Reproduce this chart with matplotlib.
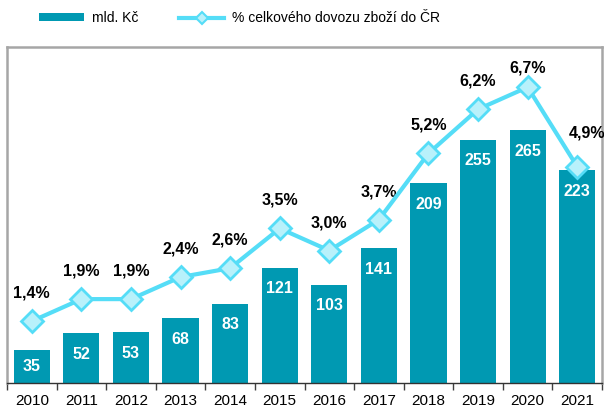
import matplotlib
matplotlib.use("Agg")
import matplotlib.pyplot as plt
from matplotlib.lines import Line2D
from matplotlib.patches import Patch

plt.rcParams['font.family'] = ['Liberation Sans', 'DejaVu Sans']

years = ['2010', '2011', '2012', '2013', '2014', '2015', '2016', '2017', '2018', '2019', '2020', '2021']
values_bn = [35, 52, 53, 68, 83, 121, 103, 141, 209, 255, 265, 223]
share_pct = [1.4, 1.9, 1.9, 2.4, 2.6, 3.5, 3.0, 3.7, 5.2, 6.2, 6.7, 4.9]
share_labels = ['1,4%', '1,9%', '1,9%', '2,4%', '2,6%', '3,5%', '3,0%', '3,7%', '5,2%', '6,2%', '6,7%', '4,9%']
legend_labels = ['mld. Kč', '% celkového dovozu zboží do ČR']

bar_color = '#0099B2'
line_color = '#55DDF7'
marker_face = '#B8F1FB'

fig = plt.figure(figsize=(6.04, 4.11), dpi=100)
ax = fig.add_axes([7/604, 28/411, 595/604, 336/411])
x = list(range(len(years)))

ax.bar(x, values_bn, width=0.73, color=bar_color, zorder=2)
ax.set_xlim(-0.5, len(years) - 0.5)
ax.set_ylim(0, 352)
ax.set_yticks([])
ax.set_xticks(x)
ax.set_xticklabels(years, fontsize=11)
ax.tick_params(axis='x', which='major', length=0, pad=8)
ax.set_xticks([i - 0.5 for i in range(len(years) + 1)], minor=True)
ax.tick_params(axis='x', which='minor', length=5, width=1, color='#404040')

for s in ['left', 'top', 'right']:
    ax.spines[s].set_color('#A6A6A6')
    ax.spines[s].set_linewidth(1.8)
ax.spines['bottom'].set_color('#333333')
ax.spines['bottom'].set_linewidth(1.0)

for xi, v in zip(x, values_bn):
    yl = max(v - 22, v / 2)
    ax.text(xi, yl, str(v), ha='center', va='center', color='white',
            fontsize=11.5, fontweight='bold', zorder=3)

ax2 = ax.twinx()
ax2.set_ylim(0, 7.61)
ax2.set_yticks([])
for s in ax2.spines.values():
    s.set_visible(False)
ax2.plot(x, share_pct, color=line_color, lw=3, marker='D', markersize=11,
         markerfacecolor=marker_face, markeredgecolor=line_color, markeredgewidth=2,
         zorder=4)

for i, (xi, p, lab) in enumerate(zip(x, share_pct, share_labels)):
    dx, dy = 0, 28
    if i == 10:
        dy = 19
    if i == 11:
        dx, dy = 10, 34
    ax2.annotate(lab, (xi, p), xytext=(dx * 0.72, dy * 0.72), textcoords='offset points',
                 ha='center', va='center', fontsize=11.5, fontweight='bold', color='black')

handles = [Patch(facecolor=bar_color, edgecolor='none'),
           Line2D([0], [0], color=line_color, lw=3, marker='D', markersize=6,
                  markerfacecolor=marker_face, markeredgecolor=line_color, markeredgewidth=1.5)]
fig.legend(handles, legend_labels, loc='center', bbox_to_anchor=(0.397, 0.956), ncol=2,
           frameon=False, fontsize=10, handlelength=3.24, handleheight=0.5,
           handletextpad=0.58, columnspacing=2.9)

fig.savefig('out.png', dpi=100)
